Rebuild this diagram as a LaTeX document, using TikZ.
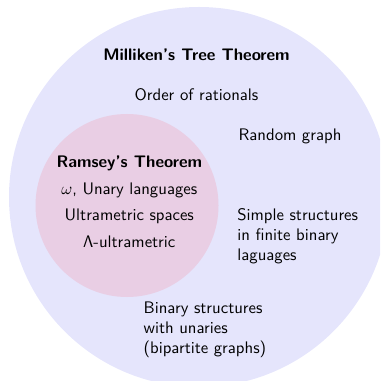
\documentclass[tikz,border=0pt]{standalone}
\definecolor{outerfill}{RGB}{229,229,252}
\definecolor{innerfill}{RGB}{233,206,228}
\tikzset{
  lbl/.style={inner sep=0pt, anchor=base},
  % multi-line labels are placed by the baseline of their last line
  lblleft/.style={inner sep=0pt, anchor=base west, align=left},
}
\begin{document}
\begin{tikzpicture}[x=0.5977pt, y=-0.5977pt, font=\sffamily]
  \useasboundingbox (0,0) rectangle (380,381);
  \clip (0,0) rectangle (380,381);
  % the two nested regions
  \fill[outerfill] (199,197) circle[radius=190];
  \fill[innerfill] (127,205.5) circle[radius=91.5];
  % outer region: Milliken's Tree Theorem
  \node[lbl, font=\sffamily\bfseries] (milliken) at (196.5,60.7) {Milliken's Tree Theorem};
  \node[lbl] (rationals) at (196.5,100.7) {Order of rationals};
  \node[lbl] (random) at (290,140.7) {Random graph};
  \node[lblleft] (simple) at (237,260.7) {Simple structures\\in finite binary\\laguages};
  \node[lblleft] (binary) at (143.3,353.3) {Binary structures\\with unaries\\(bipartite graphs)};
  % inner region: Ramsey's Theorem
  \node[lbl, font=\sffamily\bfseries] (ramsey) at (129.3,167.7) {Ramsey's Theorem};
  \node[lbl] (unary) at (129.3,194.3) {$\omega$, Unary languages};
  \node[lbl] (ultra) at (129.3,221) {Ultrametric spaces};
  \node[lbl] (lambda) at (129.3,247.7) {$\mathsf{\Lambda}$-ultrametric};
\end{tikzpicture}
\end{document}
